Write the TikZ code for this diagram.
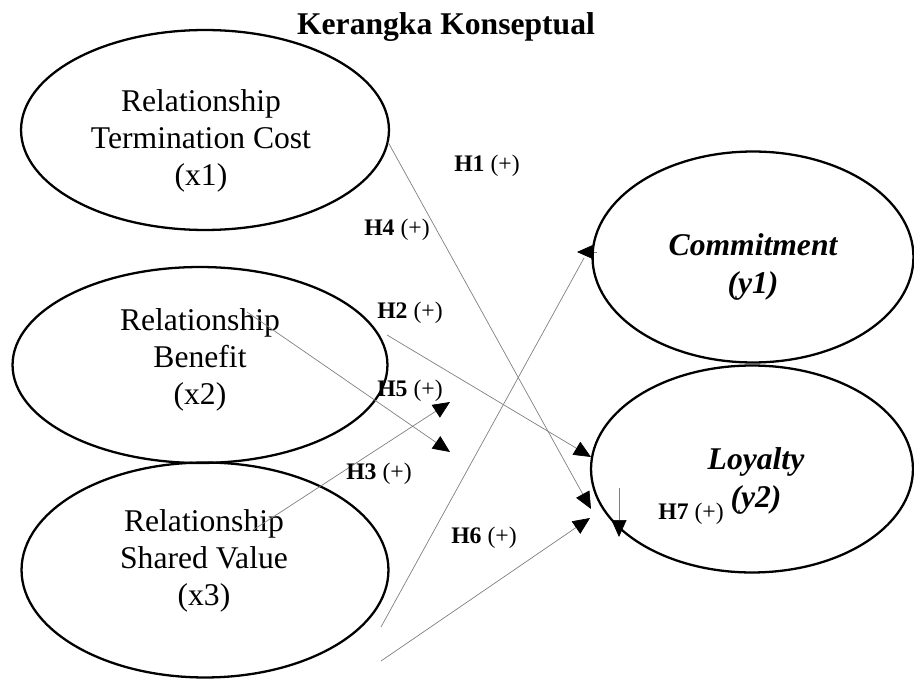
\documentclass[tikz,border=0pt]{standalone}
\usepackage{fontspec}
\setmainfont{Liberation Serif}
\usetikzlibrary{arrows.meta, positioning, shapes.geometric}

\begin{document}
\begin{tikzpicture}[x=0.02cm, y=-0.02cm,
>={Triangle[length=0.34cm, width=0.3cm, color=black]},
var/.style={draw, ellipse, line width=1.3pt, inner sep=0pt},
vtext/.style={align=center, font=\fontsize{18}{21}\selectfont},
ytext/.style={align=center, font=\fontsize{18}{21.6}\selectfont\bfseries\itshape},
hyp/.style={font=\fontsize{13.5}{15}\selectfont},
link/.style={->, draw=gray, line width=0.4pt}
]
    \useasboundingbox (0,0) rectangle (914,679);

    % Title
    \node (title) at (446,27) {\fontsize{18}{21}\selectfont\bfseries Kerangka Konseptual};

    % Independent variables
    \node[var, minimum width=7.36cm, minimum height=4cm] (x1) at (205,130) {};
    \node[var, minimum width=7.5cm, minimum height=3.92cm] (x2) at (200,365) {};
    \node[var, minimum width=7.34cm, minimum height=4.3cm] (x3) at (205,570) {};
    \node[vtext] (x1t) at (201,141) {Relationship\\Termination Cost\\(x1)};
    \node[vtext] (x2t) at (200,360) {Relationship\\Benefit\\(x2)};
    \node[vtext] (x3t) at (204,561) {Relationship\\Shared Value\\(x3)};

    % Dependent variables
    \node[var, minimum width=6.42cm, minimum height=4.22cm] (y1) at (753,257) {};
    \node[var, minimum width=6.44cm, minimum height=4.14cm] (y2) at (752,469) {};
    \node[ytext] (y1t) at (753,267) {Commitment\\(y1)};
    \node[ytext] (y2t) at (756,481) {Loyalty\\(y2)};

    % Connector ends
    \coordinate (s1) at (388,142); \coordinate (e1) at (591,509);
    \coordinate (s2) at (387,335); \coordinate (e2) at (591,457);
    \coordinate (s3) at (247,312); \coordinate (e3) at (450,452);
    \coordinate (s4) at (253,530); \coordinate (e4) at (450,402);
    \coordinate (s5) at (381,627); \coordinate (k5) at (584,258);
    \coordinate (b5) at (597,252); \coordinate (e5) at (577,252);
    \coordinate (s6) at (381,661); \coordinate (e6) at (590,518);
    \coordinate (s7) at (619,488); \coordinate (e7) at (619,537);

    % Paths
    \draw[link] (s1) -- (e1);
    \draw[link] (s2) -- (e2);
    \draw[link] (s3) -- (e3);
    \draw[link] (s4) -- (e4);
    \draw[link, -] (s5) -- (k5);
    \draw[link] (b5) -- (e5);
    \draw[link] (s6) -- (e6);
    \draw[link] (s7) -- (e7);

    % Hypotheses
    \node[hyp] (h1) at (487,166) {\textbf{H1} (+)};
    \node[hyp] (h4) at (397,230) {\textbf{H4} (+)};
    \node[hyp] (h2) at (410,313) {\textbf{H2} (+)};
    \node[hyp] (h5) at (410,391) {\textbf{H5} (+)};
    \node[hyp] (h3) at (379,474) {\textbf{H3} (+)};
    \node[hyp] (h6) at (484,538) {\textbf{H6} (+)};
    \node[hyp] (h7) at (691,514) {\textbf{H7} (+)};

\end{tikzpicture}
\end{document}
